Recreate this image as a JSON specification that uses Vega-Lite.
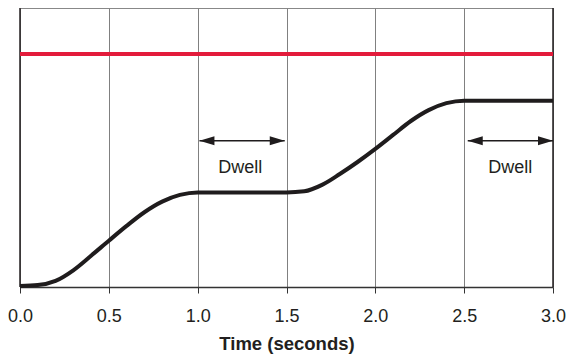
{
  "$schema": "https://vega.github.io/schema/vega-lite/v6.json",
  "width": 533,
  "height": 279,
  "autosize": {"type": "none"},
  "padding": {"left": 20, "top": 8, "right": 16, "bottom": 68},
  "config": {
    "view": {"stroke": "#888888", "strokeWidth": 1},
    "font": "Liberation Sans"
  },
  "datasets": {
    "curve": [
      {"t": 0.0, "v": 0.4}, {"t": 0.1, "v": 0.7}, {"t": 0.2, "v": 2.2}, {"t": 0.3, "v": 6.0},
      {"t": 0.4, "v": 11.2}, {"t": 0.5, "v": 16.6}, {"t": 0.6, "v": 21.9},
      {"t": 0.7, "v": 26.8}, {"t": 0.8, "v": 30.6}, {"t": 0.9, "v": 33.0}, {"t": 1.0, "v": 33.9},
      {"t": 1.25, "v": 33.9}, {"t": 1.5, "v": 33.9}, {"t": 1.6, "v": 34.3}, {"t": 1.7, "v": 36.6},
      {"t": 1.8, "v": 40.5}, {"t": 1.9, "v": 44.8}, {"t": 2.0, "v": 49.5}, {"t": 2.1, "v": 54.5},
      {"t": 2.2, "v": 59.5}, {"t": 2.3, "v": 63.4}, {"t": 2.4, "v": 65.9}, {"t": 2.5, "v": 66.8},
      {"t": 2.75, "v": 66.8}, {"t": 3.0, "v": 66.8}
    ],
    "setpoint": [{"t": 0, "v": 83.5}, {"t": 3, "v": 83.5}],
    "frame": [{"t": 0}, {"t": 3}],
    "arrows": [
      {"t1": 1.01, "t2": 1.49, "v": 52.4, "mid": 1.24, "lv": 42.8, "label": "Dwell"},
      {"t1": 2.52, "t2": 3.0, "v": 52.4, "mid": 2.76, "lv": 42.8, "label": "Dwell"}
    ]
  },
  "layer": [
    {
      "data": {"name": "frame"},
      "mark": {"type": "rule", "color": "#231f20", "strokeWidth": 1.5},
      "encoding": {
        "x": {
          "field": "t", "type": "quantitative",
          "scale": {"domain": [0, 3], "nice": false, "zero": false},
          "axis": {
            "values": [0, 0.5, 1, 1.5, 2, 2.5, 3],
            "format": ".1f",
            "labelFlush": false, "labelOverlap": false,
            "grid": true, "gridColor": "#808080", "gridWidth": 1,
            "domainColor": "#333333", "domainWidth": 1.5,
            "tickColor": "#333333", "tickSize": 6, "tickWidth": 1,
            "labelFontSize": 18, "labelColor": "#231f20", "labelPadding": 14,
            "labelFont": "Liberation Sans",
            "title": "Time (seconds)", "titleFontSize": 18.5, "titleFontWeight": "bold",
            "titleColor": "#231f20", "titlePadding": 9, "titleFont": "Liberation Sans"
          }
        }
      }
    },
    {
      "data": {"name": "setpoint"},
      "mark": {"type": "line", "color": "#e31b3b", "strokeWidth": 4},
      "encoding": {
        "x": {"field": "t", "type": "quantitative"},
        "y": {"field": "v", "type": "quantitative", "scale": {"domain": [0, 100], "nice": false}, "axis": null}
      }
    },
    {
      "data": {"name": "curve"},
      "mark": {"type": "line", "color": "#1f1c1d", "strokeWidth": 4, "interpolate": "monotone"},
      "encoding": {
        "x": {"field": "t", "type": "quantitative"},
        "y": {"field": "v", "type": "quantitative"}
      }
    },
    {
      "data": {"name": "arrows"},
      "mark": {"type": "rule", "color": "#1f1c1d", "strokeWidth": 1.5},
      "encoding": {
        "x": {"field": "t1", "type": "quantitative"},
        "x2": {"field": "t2"},
        "y": {"field": "v", "type": "quantitative"}
      }
    },
    {
      "data": {"name": "arrows"},
      "mark": {"type": "point", "shape": "M0,0L2,-0.6L2,0.6Z", "size": 225, "filled": true, "color": "#1f1c1d", "opacity": 1},
      "encoding": {
        "x": {"field": "t1", "type": "quantitative"},
        "y": {"field": "v", "type": "quantitative"}
      }
    },
    {
      "data": {"name": "arrows"},
      "mark": {"type": "point", "shape": "M0,0L-2,-0.6L-2,0.6Z", "size": 225, "filled": true, "color": "#1f1c1d", "opacity": 1},
      "encoding": {
        "x": {"field": "t2", "type": "quantitative"},
        "y": {"field": "v", "type": "quantitative"}
      }
    },
    {
      "data": {"name": "arrows"},
      "mark": {"type": "text", "fontSize": 18, "color": "#231f20", "font": "Liberation Sans", "baseline": "middle"},
      "encoding": {
        "x": {"field": "mid", "type": "quantitative"},
        "y": {"field": "lv", "type": "quantitative"},
        "text": {"field": "label"}
      }
    }
  ]
}
